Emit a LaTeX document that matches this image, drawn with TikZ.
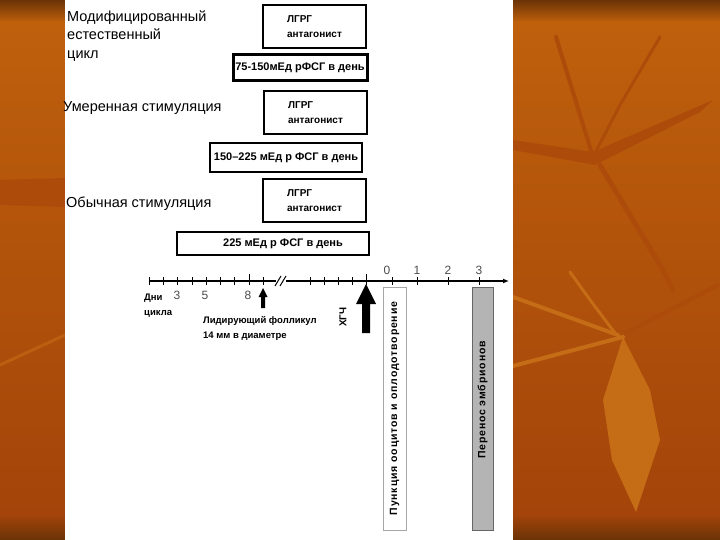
\documentclass[tikz,border=0pt]{standalone}
\usepackage{fontspec}
\setmainfont{Liberation Sans}
\newfontfamily\spacedfont[LetterSpace=8]{Liberation Sans}
\usepackage{xcolor}
\usetikzlibrary{arrows.meta}

\definecolor{bgorange}{HTML}{BE600C}
\definecolor{bgdeep}{HTML}{A4440A}
\definecolor{bgdark}{HTML}{6B3306}
\definecolor{leafdark}{HTML}{AD4C0A}
\definecolor{leaflight}{HTML}{C56C16}
\definecolor{embgray}{HTML}{B4B4B4}

\begin{document}
\begin{tikzpicture}[x=1pt, y=-1pt,
    heading/.style={anchor=west, inner sep=0pt, align=left, font=\fontsize{14.5}{18.5}\selectfont},
    lhrhbox/.style={draw, line width=2pt, fill=white, minimum width=103pt, minimum height=43pt, align=left, font=\bfseries\fontsize{10}{15}\selectfont},
    dosebox/.style={draw, line width=2.6pt, fill=white, inner sep=0pt, font=\bfseries\fontsize{11}{12}\selectfont},
    smalltxt/.style={anchor=west, align=left, inner sep=0pt, font=\bfseries\fontsize{9.5}{15}\selectfont},
    daynum/.style={inner sep=0pt, text=black!70, font=\fontsize{12}{12}\selectfont},
    axtick/.style={line width=0.9pt},
    vbox/.style={rotate=90, minimum width=243pt, minimum height=23pt, inner sep=0pt, line width=0.8pt, font=\spacedfont\bfseries\fontsize{10.5}{12}\selectfont}
  ]
  \useasboundingbox (0,0) rectangle (720,540);

  % Background
  \shade[top color=bgdark, bottom color=bgorange] (0,0) rectangle (720,22);
  \shade[top color=bgorange, bottom color=bgdeep] (0,22) rectangle (720,514);
  \shade[top color=bgdeep, bottom color=bgdark] (0,514) rectangle (720,540);

  % Leaves
  \begin{scope}[line cap=round, line join=round]
    \draw[leafdark, line width=4pt] (556,37) -- (593,157);
    \draw[leafdark, line width=3pt] (660,37) -- (620,105) -- (593,157);
    \fill[leafdark] (513,140) -- (593,152) -- (713,100) -- (700,112) -- (595,165) -- (513,150) -- cycle;
    \draw[leafdark, line width=5pt] (600,165) -- (663,270) -- (673,290);
    \draw[leafdark, line width=4pt] (718,285) -- (626,333);
    \draw[leaflight, line width=4pt] (513,297) -- (618,335);
    \draw[leaflight, line width=4pt] (513,366) -- (623,337);
    \draw[leaflight, line width=3pt] (570,272) .. controls (590,300) .. (615,333);
    \fill[leaflight] (623,337) -- (650,390) -- (660,440) -- (636,512) -- (612,460) -- (603,400) -- cycle;
    \fill[leafdark] (0,180) -- (65,178) -- (65,207) -- (0,205) -- cycle;
    \draw[leaflight, opacity=0.6, line width=3pt] (0,365) -- (65,335);
  \end{scope}

  % White panel
  \fill[white] (65,0) rectangle (513,540);

  % Protocol names
  \node[heading] (modnat) at (67,36) {Модифицированный\\естественный\\цикл};
  \node[heading] (moderate) at (63,108) {Умеренная стимуляция};
  \node[heading] (usual) at (66,204) {Обычная стимуляция};

  % Antagonist boxes
  \node[lhrhbox] (ant1) at (314.5,26.5) {ЛГРГ\\антагонист};
  \node[lhrhbox] (ant2) at (315.5,112.5) {ЛГРГ\\антагонист};
  \node[lhrhbox] (ant3) at (314.5,201) {ЛГРГ\\антагонист};

  % FSH dose boxes
  \node[dosebox, line width=3pt, minimum width=134pt, minimum height=26pt] (dose1) at (300,68) {75-150мЕд рФСГ в день};
  \node[dosebox, minimum width=152pt, minimum height=29pt] (dose2) at (286,157.5) {150–225 мЕд р ФСГ в день};
  \node[dosebox, line width=2pt, minimum width=192pt, minimum height=23pt] (dose3) at (273,243.5) {\hspace*{20pt}225 мЕд р ФСГ в день};

  % Time axis
  \coordinate (axstart) at (149,281);
  \coordinate (axend) at (509,281);
  \draw[line width=1.3pt, -{Latex[length=6pt,width=5pt]}] (axstart) -- (axend);
  \foreach \tx in {149,163,177.5,192,206,220,234.5,263,310,324,338,352,392,417,448,479}
    \draw[axtick] (\tx,277) -- (\tx,285);
  \draw[axtick] (249,274) -- (249,285);
  \draw[axtick] (366,274) -- (366,285);
  \fill[white] (276,279) rectangle (286,283.5);
  \draw[line width=1pt] (275,286) -- (281,276) (280,286) -- (286,276);

  % Day numbers
  \node[daynum] (d3) at (177,295) {3};
  \node[daynum] (d5) at (205,295) {5};
  \node[daynum] (d8) at (248,295) {8};
  \node[daynum] (p0) at (387,270) {0};
  \node[daynum] (p1) at (417,270) {1};
  \node[daynum] (p2) at (448,270) {2};
  \node[daynum] (p3) at (479,270) {3};

  % Arrows
  \coordinate (follictip) at (263,288);
  \fill (follictip) -- ++(4.5,9) -- ++(-2.5,0) -- ++(0,11) -- ++(-4,0) -- ++(0,-11) -- ++(-2.5,0) -- cycle;
  \coordinate (hcgtip) at (366,284);
  \fill (hcgtip) -- ++(10,20) -- ++(-6,0) -- ++(0,29) -- ++(-8,0) -- ++(0,-29) -- ++(-6,0) -- cycle;

  % Labels
  \node[smalltxt] (days) at (144,305.5) {Дни\\цикла};
  \node[smalltxt] (leadfol) at (203,328) {Лидирующий фолликул\\14 мм в диаметре};
  \node[rotate=90, inner sep=0pt, font=\bfseries\fontsize{10}{12}\selectfont] (hcg) at (343,317) {ХГЧ};

  % Puncture and transfer
  \node[vbox, draw=gray!70, fill=white] (puncture) at (394.5,408.5) {Пункция ооцитов и оплодотворение};
  \node[vbox, draw=gray!80!black, fill=embgray, minimum height=21pt] (transfer) at (482.5,408.5) {\hspace*{17pt}Перенос эмбрионов};
\end{tikzpicture}
\end{document}
